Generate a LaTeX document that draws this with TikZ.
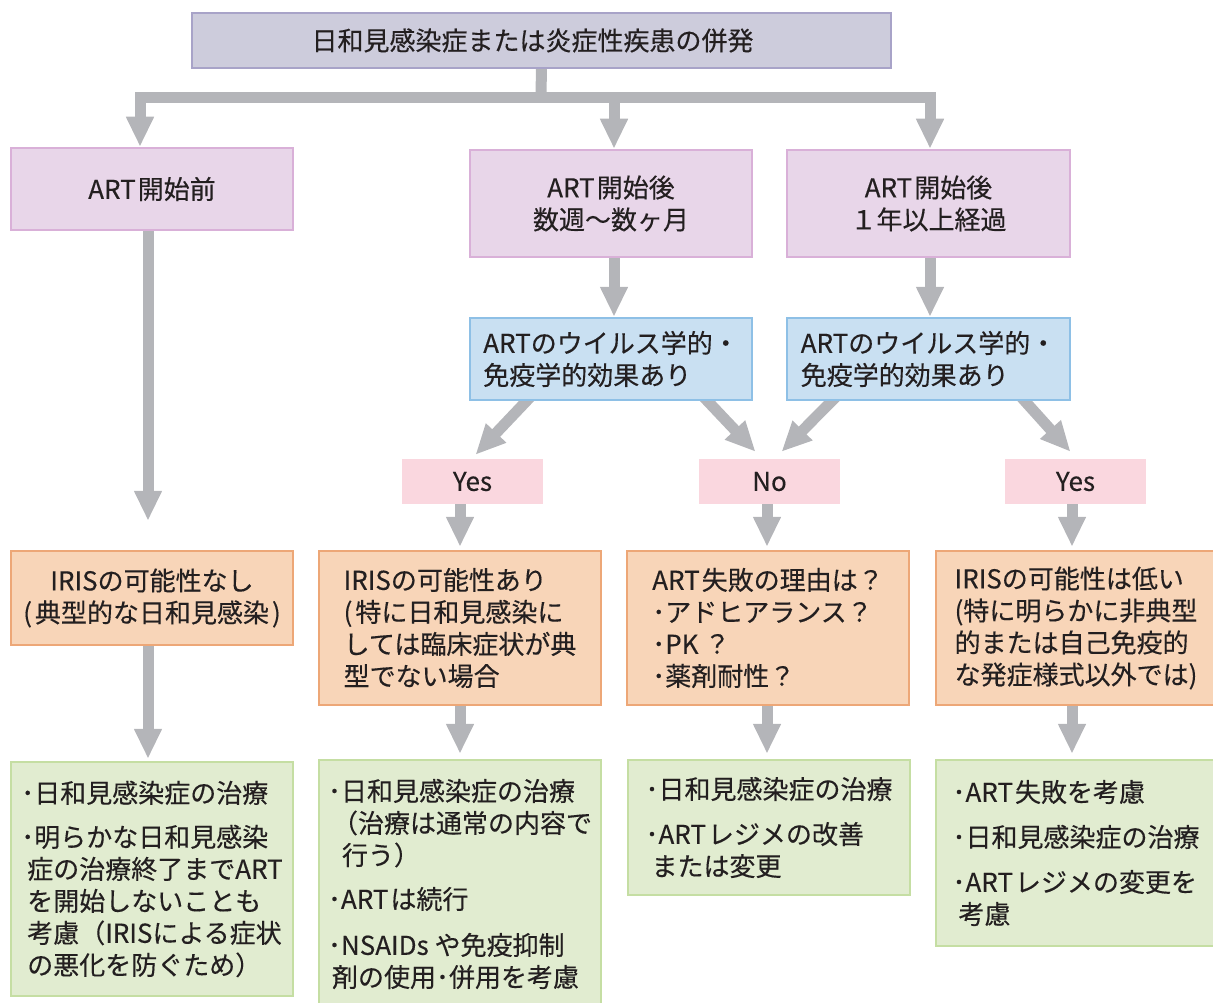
\documentclass[tikz,border=0pt]{standalone}
\usepackage{fontspec}
\setmainfont{Noto Sans CJK JP}[FakeBold=0.3]
\usetikzlibrary{arrows.meta}
\definecolor{txt}{HTML}{231F20}
\definecolor{arrowgray}{HTML}{B4B5B9}
\definecolor{topfill}{HTML}{CDCCDC}
\definecolor{topline}{HTML}{A8A3C8}
\definecolor{purfill}{HTML}{E8D6E9}
\definecolor{purline}{HTML}{D9B0D8}
\definecolor{bluefill}{HTML}{C9E0F2}
\definecolor{blueline}{HTML}{8EC0E6}
\definecolor{pinkfill}{HTML}{FAD7DF}
\definecolor{orfill}{HTML}{F8D5B8}
\definecolor{orline}{HTML}{EDA777}
\definecolor{grfill}{HTML}{E1ECD0}
\definecolor{grline}{HTML}{C5DEA3}
\pgfdeclarelayer{bg}
\pgfsetlayers{bg,main}
\begin{document}
\begin{tikzpicture}[x=1pt,y=-1pt,
  box/.style={draw, line width=2.5pt, inner sep=0pt, text=txt,
    font=\fontsize{26}{32}\selectfont},
  topbox/.style={box, fill=topfill, draw=topline, align=center},
  purbox/.style={box, fill=purfill, draw=purline, align=center},
  bluebox/.style={box, fill=bluefill, draw=blueline, align=left},
  pinkbox/.style={box, fill=pinkfill, draw=none, align=center},
  orbox/.style={box, fill=orfill, draw=orline, align=left},
  grbox/.style={box, fill=grfill, draw=grline, align=left},
  arr/.style={draw=arrowgray, line width=11pt, -{Triangle[width=26pt,length=30pt]}},
  plainline/.style={draw=arrowgray, line width=11pt},
]
\useasboundingbox (0,0) rectangle (1213,1003);
\clip (0,0) rectangle (1213,1003);

% top
\node[topbox, minimum width=699pt, minimum height=55pt] (top) at (541.5,40.5)
  {日和見感染症または炎症性疾患の併発\hspace*{18pt}};

% row 1
\node[purbox, minimum width=282pt, minimum height=82pt] (b1) at (152,189) {ART\hspace{2pt}開始前};
\node[purbox, minimum width=282pt, minimum height=107pt] (b2) at (611,203.5) {ART\hspace{2pt}開始後\\数週〜数ヶ月};
\node[purbox, minimum width=283pt, minimum height=107pt] (b3) at (928.5,203.5) {ART\hspace{2pt}開始後\\１年以上経過};

% row 2
\node[bluebox, minimum width=282pt, minimum height=82pt] (c2) at (611,359) {ARTのウイルス学的・\\免疫学的効果あり};
\node[bluebox, minimum width=283pt, minimum height=82pt] (c3) at (928.5,359) {ARTのウイルス学的・\\免疫学的効果あり};

% yes/no
\node[pinkbox, minimum width=141pt, minimum height=45pt] (y1) at (472.5,481.5) {Yes};
\node[pinkbox, minimum width=141pt, minimum height=45pt] (no) at (769.5,481.5) {No};
\node[pinkbox, minimum width=141pt, minimum height=45pt] (y2) at (1075.5,481.5) {Yes};

% row 3
\node[orbox, align=center, minimum width=282pt, minimum height=94pt] (d1) at (152,598)
  {IRISの可能性なし\\(\hspace{3pt}典型的な日和見感染\hspace{3pt})};
\node[orbox, minimum width=282pt, minimum height=154pt] (d2) at (460,628)
  {IRISの可能性あり\\(\hspace{3pt}特に日和見感染に\\しては臨床症状が典\\型でない場合};
\node[orbox, minimum width=282pt, minimum height=154pt] (d3) at (768,628)
  {ART\hspace{2pt}失敗の理由は？\\･アドヒアランス？\\･PK ？\\･薬剤耐性？};
\node[orbox, minimum width=280pt, minimum height=154pt] (d4) at (1076,628)
  {IRISの可能性は低い\\(特に明らかに非典型\\的または自己免疫的\\な発症様式以外では)};

% row 4
\node[grbox, minimum width=282pt, minimum height=234pt] (e1) at (152,879)
  {･日和見感染症の治療\\[12pt]･明らかな日和見感染\\\hspace*{6pt}症の治療終了までART\\\hspace*{6pt}を開始しないことも\\\hspace*{6pt}考慮（IRISによる症状\\\hspace*{6pt}の悪化を防ぐため）};
\node[grbox, minimum width=282pt, minimum height=248pt] (e2) at (460,884)
  {･日和見感染症の治療\\\hspace*{4pt}（治療は通常の内容で\\\hspace*{14pt}行う）\\[12pt]･ART\hspace{2pt}は続行\\[14pt]･NSAIDs や免疫抑制\\\hspace*{4pt}剤の使用･併用を考慮};
\node[grbox, minimum width=282pt, minimum height=135pt] (e3) at (769,827.5)
  {･日和見感染症の治療\\[13pt]･ART\hspace{2pt}レジメの改善\\\hspace*{6pt}または変更};
\node[grbox, minimum width=280pt, minimum height=186pt] (e4) at (1076,853)
  {･ART\hspace{2pt}失敗を考慮\\[13pt]･日和見感染症の治療\\[13pt]･ART\hspace{2pt}レジメの変更を\\\hspace*{6pt}考慮};

\coordinate (bar) at (541,98);

\begin{pgfonlayer}{bg}
  \draw[plainline] ([yshift=5pt]top.south) -- (bar);
  \draw[arr] (bar) -| ([xshift=-12pt]b1.north);
  \draw[arr] (bar) -| ([xshift=3pt]b2.north);
  \draw[arr] (bar) -| ([xshift=1.5pt]b3.north);

  \draw[arr] ([xshift=-4pt,yshift=5pt]b1.south) -- ([xshift=-4pt,yshift=29pt]d1.north);
  \draw[arr] ([xshift=3pt,yshift=5pt]b2.south) -- ([xshift=3pt]c2.north);
  \draw[arr] ([xshift=1.5pt,yshift=5pt]b3.south) -- ([xshift=1.5pt]c3.north);

  \draw[arr] ([xshift=-80pt,yshift=5pt]c2.south) -- ([xshift=3pt,yshift=3pt]y1.north);
  \draw[arr] ([xshift=92pt,yshift=5pt]c2.south) -- ([xshift=-14pt,yshift=6pt]no.north);
  \draw[arr] ([xshift=-92pt,yshift=5pt]c3.south) -- ([xshift=12pt,yshift=6pt]no.north);
  \draw[arr] ([xshift=92pt,yshift=5pt]c3.south) -- ([xshift=-5pt,yshift=6pt]y2.north);

  \draw[arr] ([xshift=-12.5pt,yshift=5pt]y1.south) -- ([yshift=3pt]d2.north);
  \draw[arr] ([xshift=-2.5pt,yshift=5pt]no.south) -- ([xshift=-1pt,yshift=3pt]d3.north);
  \draw[arr] ([xshift=-3.5pt,yshift=5pt]y2.south) -- ([xshift=-4pt,yshift=3pt]d4.north);

  \draw[arr] ([xshift=-4pt,yshift=3pt]d1.south) -- ([xshift=-4pt,yshift=2pt]e1.north);
  \draw[arr] ([yshift=5pt]d2.south) -- ([yshift=5pt]e2.north);
  \draw[arr] ([xshift=-1pt,yshift=5pt]d3.south) -- ([xshift=-2pt,yshift=5pt]e3.north);
  \draw[arr] ([xshift=-4pt,yshift=5pt]d4.south) -- ([xshift=-4pt,yshift=5pt]e4.north);
\end{pgfonlayer}
\end{tikzpicture}
\end{document}
